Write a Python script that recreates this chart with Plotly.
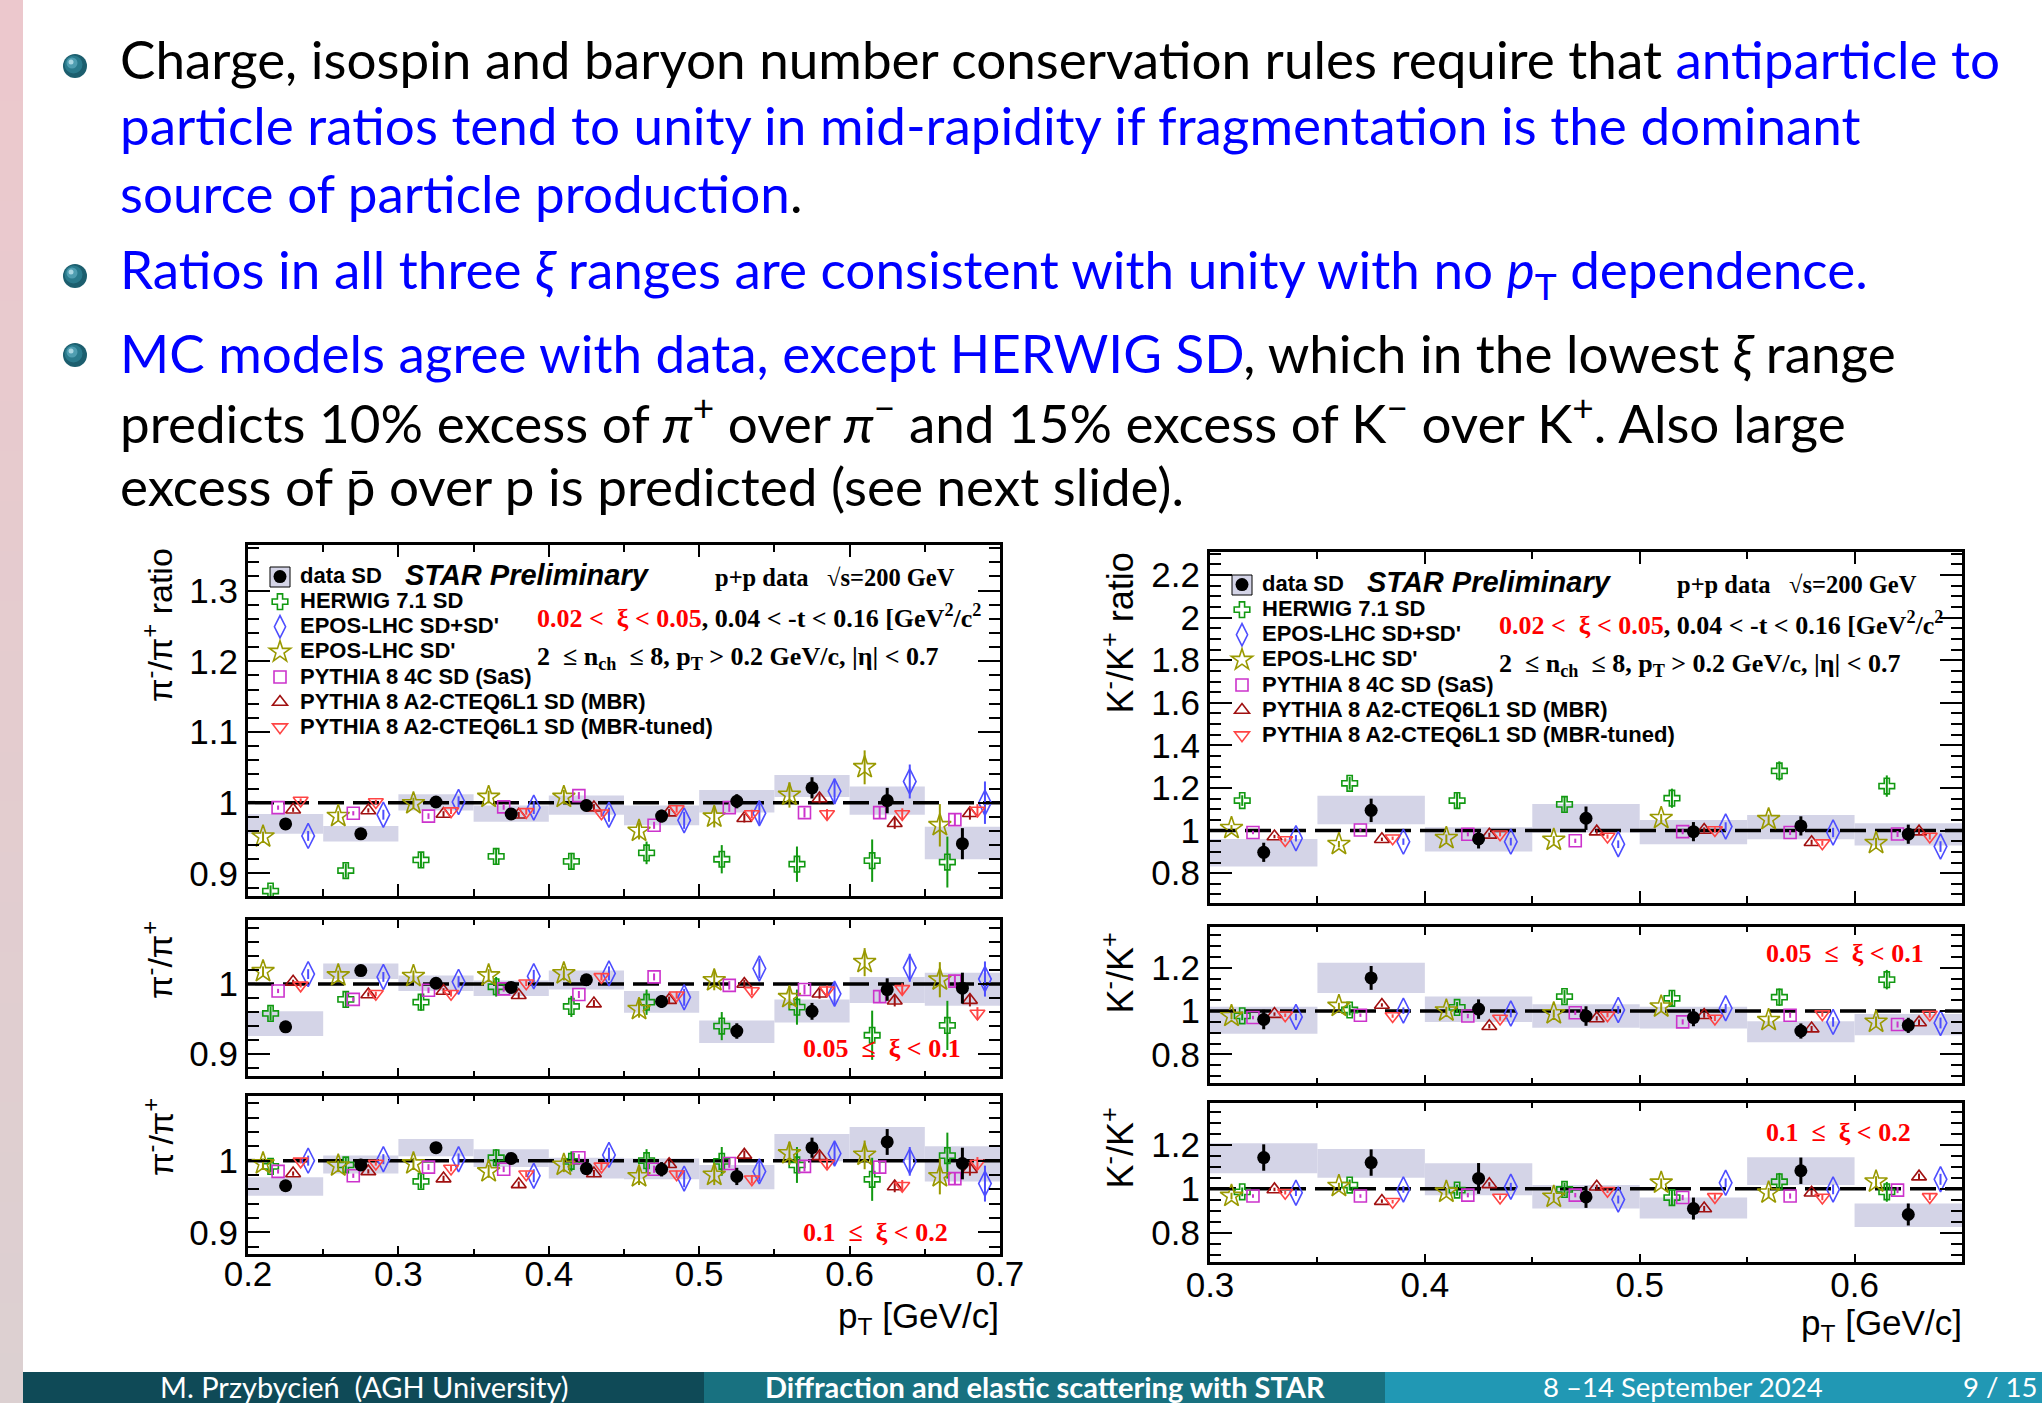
import plotly.graph_objects as go

W, H = 2042, 1403

# ------------------------------------------------------------------ data
PI_BIN_LO = [0.20, 0.25, 0.30, 0.35, 0.40, 0.45, 0.50, 0.55, 0.60, 0.65]
K_BIN_LO = [0.30, 0.35, 0.40, 0.45, 0.50, 0.55, 0.60]
BIN_WIDTH = 0.05
UNITY = 1.0

# pi-/pi+ , 0.02 < xi < 0.05
PI1_DATA = [0.970, 0.956, 1.001, 0.984, 0.996, 0.981, 1.002, 1.021, 1.003, 0.942]
PI1_DATA_ERR = [0.008, 0.006, 0.007, 0.007, 0.008, 0.009, 0.010, 0.015, 0.018, 0.022]
PI1_SYS_LO = [0.956, 0.945, 0.989, 0.973, 0.983, 0.968, 0.986, 1.008, 0.983, 0.920]
PI1_SYS_HI = [0.984, 0.967, 1.012, 0.996, 1.010, 0.996, 1.018, 1.039, 1.023, 0.966]
PI1_HERWIG = [0.875, 0.904, 0.919, 0.924, 0.917, 0.929, 0.920, 0.913, 0.918, 0.916]
PI1_HERWIG_ERR = [0.008, 0.010, 0.010, 0.012, 0.012, 0.016, 0.020, 0.025, 0.030, 0.036]
PI1_EPOS_SDSD = [0.953, 0.983, 1.001, 0.993, 0.983, 0.975, 0.985, 1.016, 1.030, 1.000]
PI1_EPOS_SDP = [0.952, 0.981, 0.999, 1.008, 1.008, 0.960, 0.980, 1.011, 1.050, 0.968]
PI1_EPOS_ERR = [0.007, 0.007, 0.008, 0.009, 0.010, 0.012, 0.015, 0.018, 0.024, 0.030]
PI1_PY4C = [0.993, 0.985, 0.981, 0.994, 1.010, 0.968, 0.993, 0.986, 0.986, 0.976]
PI1_MBR = [0.990, 0.989, 0.984, 0.983, 0.993, 0.986, 0.978, 1.006, 0.971, 0.985]
PI1_MBRT = [1.003, 1.001, 0.988, 0.987, 0.985, 0.991, 0.984, 0.984, 0.984, 0.989]
PI1_PYTHIA_ERR = [0.003, 0.003, 0.004, 0.004, 0.005, 0.005, 0.006, 0.007, 0.008, 0.009]

# pi-/pi+ , 0.05 <= xi < 0.1
PI2_DATA = [0.939, 1.019, 1.001, 0.995, 1.006, 0.975, 0.933, 0.961, 0.992, 0.994]
PI2_DATA_ERR = [0.007, 0.006, 0.007, 0.007, 0.008, 0.009, 0.011, 0.012, 0.016, 0.022]
PI2_SYS_LO = [0.926, 1.007, 0.990, 0.983, 0.992, 0.959, 0.916, 0.945, 0.973, 0.969]
PI2_SYS_HI = [0.961, 1.029, 1.012, 1.005, 1.019, 0.990, 0.948, 0.978, 1.010, 1.016]
PI2_HERWIG = [0.958, 0.978, 0.974, 0.996, 0.968, 0.974, 0.940, 0.967, 0.927, 0.941]
PI2_HERWIG_ERR = [0.010, 0.012, 0.012, 0.014, 0.015, 0.018, 0.020, 0.025, 0.035, 0.035]
PI2_EPOS_SDSD = [1.014, 1.010, 1.003, 1.011, 1.015, 0.981, 1.022, 0.986, 1.023, 1.007]
PI2_EPOS_SDP = [1.018, 1.012, 1.011, 1.012, 1.015, 0.964, 1.005, 0.981, 1.031, 1.006]
PI2_EPOS_ERR = [0.007, 0.007, 0.008, 0.009, 0.010, 0.012, 0.014, 0.016, 0.020, 0.025]
PI2_PY4C = [0.990, 0.978, 0.991, 0.993, 0.985, 1.010, 0.998, 0.992, 0.982, 1.004]
PI2_MBR = [1.003, 0.985, 0.990, 0.984, 0.972, 0.977, 1.000, 0.986, 0.976, 0.977]
PI2_MBRT = [0.998, 0.986, 0.986, 1.001, 1.010, 0.984, 0.990, 0.991, 0.993, 0.958]
PI2_PYTHIA_ERR = [0.003, 0.003, 0.004, 0.004, 0.005, 0.005, 0.006, 0.007, 0.008, 0.009]

# pi-/pi+ , 0.1 <= xi < 0.2
PI3_DATA = [0.965, 0.994, 1.018, 1.003, 0.989, 0.988, 0.978, 1.018, 1.026, 0.996]
PI3_DATA_ERR = [0.007, 0.007, 0.008, 0.008, 0.009, 0.010, 0.012, 0.014, 0.018, 0.022]
PI3_SYS_LO = [0.951, 0.982, 1.006, 0.991, 0.975, 0.974, 0.960, 0.999, 1.001, 0.971]
PI3_SYS_HI = [0.977, 1.007, 1.030, 1.016, 1.004, 1.003, 0.994, 1.037, 1.047, 1.020]
PI3_HERWIG = [0.992, 0.994, 0.971, 1.004, 0.999, 1.000, 0.999, 0.994, 0.974, 1.007]
PI3_HERWIG_ERR = [0.008, 0.010, 0.010, 0.012, 0.014, 0.016, 0.020, 0.025, 0.030, 0.032]
PI3_EPOS_SDSD = [1.000, 1.002, 1.002, 0.979, 1.008, 0.975, 0.985, 1.010, 0.999, 0.968]
PI3_EPOS_SDP = [0.996, 0.993, 0.996, 0.985, 0.994, 0.978, 0.980, 1.010, 1.008, 0.978]
PI3_EPOS_ERR = [0.007, 0.007, 0.008, 0.009, 0.010, 0.012, 0.014, 0.016, 0.020, 0.025]
PI3_PY4C = [0.985, 0.979, 0.991, 0.988, 1.004, 0.988, 0.996, 0.992, 0.991, 0.975]
PI3_MBR = [0.982, 0.985, 0.975, 0.967, 0.982, 0.995, 1.008, 1.006, 0.964, 0.988]
PI3_MBRT = [0.999, 0.996, 0.989, 0.981, 0.992, 0.981, 0.974, 0.996, 0.965, 0.996]
PI3_PYTHIA_ERR = [0.003, 0.003, 0.004, 0.004, 0.005, 0.005, 0.006, 0.007, 0.008, 0.009]

# K-/K+ , 0.02 < xi < 0.05
K1_DATA = [0.898, 1.095, 0.961, 1.058, 0.995, 1.022, 0.983]
K1_DATA_ERR = [0.045, 0.055, 0.045, 0.055, 0.045, 0.045, 0.045]
K1_SYS_LO = [0.831, 1.030, 0.902, 0.991, 0.936, 0.959, 0.930]
K1_SYS_HI = [0.961, 1.163, 1.016, 1.125, 1.050, 1.073, 1.034]
K1_HERWIG = [1.141, 1.222, 1.141, 1.123, 1.152, 1.280, 1.209]
K1_HERWIG_ERR = [0.025, 0.030, 0.035, 0.035, 0.045, 0.045, 0.050]
K1_EPOS_SDSD = [0.964, 0.948, 0.948, 0.936, 1.019, 0.991, 0.925]
K1_EPOS_SDP = [1.011, 0.936, 0.964, 0.956, 1.058, 1.053, 0.941]
K1_EPOS_ERR = [0.015, 0.015, 0.018, 0.018, 0.020, 0.022, 0.025]
K1_PY4C = [0.991, 1.003, 0.983, 0.952, 0.995, 0.991, 0.984]
K1_MBR = [0.972, 0.959, 0.980, 0.995, 1.003, 0.945, 0.995]
K1_MBRT = [0.956, 0.964, 0.983, 0.972, 1.003, 0.941, 0.972]
K1_PYTHIA_ERR = [0.008, 0.008, 0.010, 0.010, 0.012, 0.012, 0.014]

# K-/K+ , 0.05 <= xi < 0.1
K2_DATA = [0.961, 1.153, 1.009, 0.977, 0.970, 0.908, 0.934]
K2_DATA_ERR = [0.045, 0.055, 0.045, 0.045, 0.040, 0.035, 0.035]
K2_SYS_LO = [0.895, 1.083, 0.950, 0.923, 0.919, 0.856, 0.888]
K2_SYS_HI = [1.020, 1.223, 1.067, 1.031, 1.020, 0.953, 0.986]
K2_HERWIG = [0.978, 1.005, 1.017, 1.067, 1.059, 1.064, 1.145]
K2_HERWIG_ERR = [0.020, 0.025, 0.025, 0.030, 0.035, 0.040, 0.045]
K2_EPOS_SDSD = [0.973, 1.002, 0.989, 1.005, 1.013, 0.950, 0.945]
K2_EPOS_SDP = [0.977, 1.023, 1.002, 0.989, 1.020, 0.958, 0.950]
K2_EPOS_ERR = [0.015, 0.015, 0.018, 0.018, 0.020, 0.022, 0.025]
K2_PY4C = [0.970, 0.981, 0.977, 0.992, 0.950, 0.981, 0.938]
K2_MBR = [0.986, 1.028, 0.930, 0.966, 0.981, 0.919, 0.947]
K2_MBRT = [0.981, 0.977, 0.966, 0.981, 0.966, 0.986, 0.984]
K2_PYTHIA_ERR = [0.008, 0.008, 0.010, 0.010, 0.012, 0.012, 0.014]

# K-/K+ , 0.1 <= xi < 0.2
K3_DATA = [1.142, 1.119, 1.047, 0.963, 0.910, 1.082, 0.883]
K3_DATA_ERR = [0.060, 0.060, 0.070, 0.050, 0.050, 0.060, 0.050]
K3_SYS_LO = [1.070, 1.050, 0.971, 0.910, 0.865, 1.017, 0.826]
K3_SYS_HI = [1.207, 1.181, 1.116, 1.017, 0.960, 1.143, 0.933]
K3_HERWIG = [0.986, 1.017, 0.994, 0.997, 0.960, 1.032, 0.986]
K3_HERWIG_ERR = [0.020, 0.025, 0.025, 0.030, 0.035, 0.040, 0.045]
K3_EPOS_SDSD = [0.982, 0.997, 1.009, 0.951, 1.027, 0.997, 1.043]
K3_EPOS_SDP = [0.967, 1.012, 0.986, 0.963, 1.027, 0.982, 1.032]
K3_EPOS_ERR = [0.015, 0.015, 0.018, 0.018, 0.020, 0.022, 0.025]
K3_PY4C = [0.967, 0.967, 0.971, 0.971, 0.960, 0.967, 0.994]
K3_MBR = [0.997, 0.944, 1.020, 1.009, 0.910, 0.982, 1.055]
K3_MBRT = [0.982, 0.941, 0.960, 0.991, 0.963, 0.960, 0.963]
K3_PYTHIA_ERR = [0.008, 0.008, 0.010, 0.010, 0.012, 0.012, 0.014]

# texts
SLIDE_LINES = [
    "Charge, isospin and baryon number conservation rules require that "
    "<span style='color:#0000ff'>antiparticle to</span>",
    "<span style='color:#0000ff'>particle ratios tend to unity in mid-rapidity if fragmentation is the dominant</span>",
    "<span style='color:#0000ff'>source of particle production</span>.",
    "<span style='color:#0000ff'>Ratios in all three <i>ξ</i> ranges are consistent with unity with no "
    "<i>p</i><sub>T</sub> dependence.</span>",
    "<span style='color:#0000ff'>MC models agree with data, except HERWIG SD</span>, which in the lowest <i>ξ</i> range",
    "predicts 10% excess of <i>π</i><sup>+</sup> over <i>π</i><sup>−</sup> and 15% excess of "
    "K<sup>−</sup> over K<sup>+</sup>. Also large",
    "excess of p̄ over p is predicted (see next slide).",
]
FOOTER_TEXTS = ["M. Przybycień&nbsp; (AGH University)", "<b>Diffraction and elastic scattering with STAR</b>",
                "8 –14 September 2024", "9 / 15"]
LEGEND_NAMES = ["data SD", "HERWIG 7.1 SD", "EPOS-LHC SD+SD'", "EPOS-LHC SD'",
                "PYTHIA 8 4C SD (SaS)", "PYTHIA 8 A2-CTEQ6L1 SD (MBR)", "PYTHIA 8 A2-CTEQ6L1 SD (MBR-tuned)"]

# ------------------------------------------------------------------ styles
BOX_COLOR = "#d4d4e7"
SANS = "Liberation Sans"
SERIF = "Liberation Serif"
SLIDE_FONT = "Lato"

# (key, legend index, symbol, color, size, x offset from bin centre)
MODEL_STYLES = [
    ("herwig", 1, "cross-open", "#119911", 13, -0.010),
    ("sdsd", 2, "diamond-tall-open", "#4d4dff", 18, 0.015),
    ("sdp", 3, "star-open", "#999900", 17, -0.015),
    ("py4c", 4, "square-open", "#cc33cc", 12, -0.005),
    ("mbr", 5, "triangle-up-open", "#a01010", 13, 0.005),
    ("mbrt", 6, "triangle-down-open", "#ff4444", 13, 0.010),
]

PANELS = [
    dict(bins=PI_BIN_LO, data=PI1_DATA, err=PI1_DATA_ERR, lo=PI1_SYS_LO, hi=PI1_SYS_HI,
         m=dict(herwig=(PI1_HERWIG, PI1_HERWIG_ERR), sdsd=(PI1_EPOS_SDSD, PI1_EPOS_ERR),
                sdp=(PI1_EPOS_SDP, PI1_EPOS_ERR), py4c=(PI1_PY4C, PI1_PYTHIA_ERR),
                mbr=(PI1_MBR, PI1_PYTHIA_ERR), mbrt=(PI1_MBRT, PI1_PYTHIA_ERR)),
         xpx=(248, 1000), ypx=(545, 896), xr=(0.2, 0.7), yr=(0.868, 1.3645), ydt=0.1, ymin=0.02,
         top=True, bottom=False, legend="legend", standoff=0),
    dict(bins=PI_BIN_LO, data=PI2_DATA, err=PI2_DATA_ERR, lo=PI2_SYS_LO, hi=PI2_SYS_HI,
         m=dict(herwig=(PI2_HERWIG, PI2_HERWIG_ERR), sdsd=(PI2_EPOS_SDSD, PI2_EPOS_ERR),
                sdp=(PI2_EPOS_SDP, PI2_EPOS_ERR), py4c=(PI2_PY4C, PI2_PYTHIA_ERR),
                mbr=(PI2_MBR, PI2_PYTHIA_ERR), mbrt=(PI2_MBRT, PI2_PYTHIA_ERR)),
         xpx=(248, 1000), ypx=(920, 1076), xr=(0.2, 0.7), yr=(0.869, 1.091), ydt=0.1, ymin=0.02,
         top=False, bottom=False, legend=None, standoff=0),
    dict(bins=PI_BIN_LO, data=PI3_DATA, err=PI3_DATA_ERR, lo=PI3_SYS_LO, hi=PI3_SYS_HI,
         m=dict(herwig=(PI3_HERWIG, PI3_HERWIG_ERR), sdsd=(PI3_EPOS_SDSD, PI3_EPOS_ERR),
                sdp=(PI3_EPOS_SDP, PI3_EPOS_ERR), py4c=(PI3_PY4C, PI3_PYTHIA_ERR),
                mbr=(PI3_MBR, PI3_PYTHIA_ERR), mbrt=(PI3_MBRT, PI3_PYTHIA_ERR)),
         xpx=(248, 1000), ypx=(1096, 1254), xr=(0.2, 0.7), yr=(0.870, 1.090), ydt=0.1, ymin=0.02,
         top=False, bottom=True, legend=None, standoff=-13),
    dict(bins=K_BIN_LO, data=K1_DATA, err=K1_DATA_ERR, lo=K1_SYS_LO, hi=K1_SYS_HI,
         m=dict(herwig=(K1_HERWIG, K1_HERWIG_ERR), sdsd=(K1_EPOS_SDSD, K1_EPOS_ERR),
                sdp=(K1_EPOS_SDP, K1_EPOS_ERR), py4c=(K1_PY4C, K1_PYTHIA_ERR),
                mbr=(K1_MBR, K1_PYTHIA_ERR), mbrt=(K1_MBRT, K1_PYTHIA_ERR)),
         xpx=(1210, 1962), ypx=(552, 903), xr=(0.3, 0.65), yr=(0.66, 2.308), ydt=0.2, ymin=0.05,
         top=True, bottom=False, legend="legend2", standoff=0),
    dict(bins=K_BIN_LO, data=K2_DATA, err=K2_DATA_ERR, lo=K2_SYS_LO, hi=K2_SYS_HI,
         m=dict(herwig=(K2_HERWIG, K2_HERWIG_ERR), sdsd=(K2_EPOS_SDSD, K2_EPOS_ERR),
                sdp=(K2_EPOS_SDP, K2_EPOS_ERR), py4c=(K2_PY4C, K2_PYTHIA_ERR),
                mbr=(K2_MBR, K2_PYTHIA_ERR), mbrt=(K2_MBRT, K2_PYTHIA_ERR)),
         xpx=(1210, 1962), ypx=(927, 1083), xr=(0.3, 0.65), yr=(0.668, 1.388), ydt=0.2, ymin=0.05,
         top=False, bottom=False, legend=None, standoff=0),
    dict(bins=K_BIN_LO, data=K3_DATA, err=K3_DATA_ERR, lo=K3_SYS_LO, hi=K3_SYS_HI,
         m=dict(herwig=(K3_HERWIG, K3_HERWIG_ERR), sdsd=(K3_EPOS_SDSD, K3_EPOS_ERR),
                sdp=(K3_EPOS_SDP, K3_EPOS_ERR), py4c=(K3_PY4C, K3_PYTHIA_ERR),
                mbr=(K3_MBR, K3_PYTHIA_ERR), mbrt=(K3_MBRT, K3_PYTHIA_ERR)),
         xpx=(1210, 1962), ypx=(1103, 1262), xr=(0.3, 0.65), yr=(0.667, 1.39), ydt=0.2, ymin=0.05,
         top=False, bottom=True, legend=None, standoff=-10),
]

fig = go.Figure()
layout = dict(width=W, height=H, autosize=False,
              margin=dict(l=0, r=0, t=0, b=0, pad=0, autoexpand=False),
              paper_bgcolor="white", plot_bgcolor="rgba(0,0,0,0)", barmode="overlay", showlegend=True)

LEG_SPAN = "<span style='font-size:22px'>%s</span>"

for i, p in enumerate(PANELS):
    n = "" if i == 0 else str(i + 1)
    xa, ya = "x" + n, "y" + n
    centres = [b + BIN_WIDTH / 2 for b in p["bins"]]
    # systematic boxes
    fig.add_trace(go.Bar(x=centres, y=[h - l for h, l in zip(p["hi"], p["lo"])], base=p["lo"],
                         width=BIN_WIDTH, marker=dict(color=BOX_COLOR, line=dict(width=0)),
                         xaxis=xa, yaxis=ya, showlegend=False, hoverinfo="skip"))
    # unity line
    fig.add_trace(go.Scatter(x=list(p["xr"]), y=[UNITY, UNITY], mode="lines",
                             line=dict(color="black", width=3.5, dash="26px,9px"),
                             xaxis=xa, yaxis=ya, showlegend=False, hoverinfo="skip"))
    show = p["legend"] is not None
    for key, rank, sym, col, size, off in MODEL_STYLES:
        vals, errs = p["m"][key]
        kw = dict(legend=p["legend"]) if show else {}
        fig.add_trace(go.Scatter(
            x=[c + off for c in centres], y=vals, mode="markers",
            marker=dict(symbol=sym, color=col, size=size, line=dict(color=col, width=1.6)),
            error_y=dict(type="data", array=errs, color=col, thickness=2, width=0),
            name=LEG_SPAN % LEGEND_NAMES[rank], legendrank=rank + 1,
            xaxis=xa, yaxis=ya, showlegend=show, **kw))
    kw = dict(legend=p["legend"]) if show else {}
    fig.add_trace(go.Scatter(
        x=centres, y=p["data"], mode="markers",
        marker=dict(symbol="circle", color="black", size=13),
        error_y=dict(type="data", array=p["err"], color="black", thickness=3, width=0),
        name=LEG_SPAN % LEGEND_NAMES[0], legendrank=1,
        xaxis=xa, yaxis=ya, showlegend=show, **kw))

    xlen = 12 if p["top"] else 8
    layout["xaxis" + n] = dict(
        domain=[p["xpx"][0] / W, p["xpx"][1] / W], range=list(p["xr"]), anchor=ya,
        showline=True, linewidth=3, linecolor="black", mirror="ticks",
        ticks="inside", ticklen=xlen, tickwidth=2, tickcolor="black",
        tick0=p["xr"][0], dtick=0.1, ticklabelstandoff=p["standoff"],
        minor=dict(ticks="inside", ticklen=xlen // 2 + 1, tickwidth=2, tickcolor="black", dtick=0.05,
                   tick0=p["xr"][0], showgrid=False),
        showgrid=False, zeroline=False, showticklabels=p["bottom"], automargin=False,
        tickfont=dict(family=SANS, size=35, color="black"), fixedrange=True)
    layout["yaxis" + n] = dict(
        domain=[1 - p["ypx"][1] / H, 1 - p["ypx"][0] / H], range=list(p["yr"]), anchor=xa,
        showline=True, linewidth=3, linecolor="black", mirror="ticks",
        ticks="inside", ticklen=22, tickwidth=2, tickcolor="black",
        tick0=0, dtick=p["ydt"], automargin=False,
        minor=dict(ticks="inside", ticklen=11, tickwidth=2, tickcolor="black", dtick=p["ymin"],
                   tick0=0, showgrid=False),
        showgrid=False, zeroline=False,
        tickfont=dict(family=SANS, size=35, color="black"), fixedrange=True)

LEG_FONT = dict(family=SANS, size=17, color="black", weight="bold")
LEG_L = (260, 559)
LEG_R = (1222, 567)
layout["legend"] = dict(x=LEG_L[0] / W, y=1 - LEG_L[1] / H, xanchor="left", yanchor="top",
                        bgcolor="rgba(0,0,0,0)", borderwidth=0, font=LEG_FONT, traceorder="normal")
layout["legend2"] = dict(x=LEG_R[0] / W, y=1 - LEG_R[1] / H, xanchor="left", yanchor="top",
                         bgcolor="rgba(0,0,0,0)", borderwidth=0, font=LEG_FONT, traceorder="normal")

# ------------------------------------------------------------------ decoration
shapes = []
# left stripe gradient (full height)
NB = 28
for k in range(NB):
    t = k / (NB - 1)
    r = round(236 + (220 - 236) * t)
    g = round(200 + (208 - 200) * t)
    b = round(205 + (209 - 205) * t)
    y0 = H * k / NB
    y1 = H * (k + 1) / NB + 1
    shapes.append(dict(type="rect", xref="paper", yref="paper", x0=0, x1=23 / W,
                       y0=max(0, 1 - y1 / H), y1=1 - y0 / H, fillcolor=f"rgb({r},{g},{b})",
                       line=dict(width=0), layer="below"))
# footer bars
for x0, x1, col in [(23, 704, "#0f4a57"), (704, 1385, "#187180"), (1385, W, "#2198b4")]:
    shapes.append(dict(type="rect", xref="paper", yref="paper", x0=x0 / W, x1=x1 / W,
                       y0=0, y1=1 - 1372 / H, fillcolor=col, line=dict(width=0), layer="below"))
# bullets
for cy in [66, 276, 355]:
    cx = 75
    for rad, col, dx, dy in [(12, "#1c5e6e", 0, 0), (9, "#2a7a8c", -1.5, -1.5),
                             (5.5, "#4f9db0", -3, -3), (2.5, "#a9d6e2", -4, -4)]:
        shapes.append(dict(type="circle", xref="paper", yref="paper",
                           x0=(cx + dx - rad) / W, x1=(cx + dx + rad) / W,
                           y0=1 - (cy + dy + rad) / H, y1=1 - (cy + dy - rad) / H,
                           fillcolor=col, line=dict(width=0)))
# legend box icons for "data SD"
for bx, by in [(LEG_L[0] + 20, LEG_L[1] + 18), (LEG_R[0] + 20, LEG_R[1] + 18)]:
    shapes.append(dict(type="rect", xref="paper", yref="paper",
                       x0=(bx - 10) / W, x1=(bx + 10) / W, y0=1 - (by + 10) / H, y1=1 - (by - 10) / H,
                       fillcolor=BOX_COLOR, line=dict(color="black", width=1)))
layout["shapes"] = shapes


def ann(text, x, y, size, family, color="black", xanchor="left", yanchor="middle", angle=0):
    return dict(text=text, x=x / W, y=1 - y / H, xref="paper", yref="paper", xanchor=xanchor,
                yanchor=yanchor, showarrow=False, textangle=angle, align="left", borderpad=0,
                font=dict(family=family, size=size, color=color))


anns = []
for txt, base in zip(SLIDE_LINES, [79, 146, 213, 294, 373, 440, 507]):
    anns.append(ann(txt, 119, base - 21, 53, SLIDE_FONT))
anns.append(ann(FOOTER_TEXTS[0], 364, 1386, 29, SLIDE_FONT, "white", "center"))
anns.append(ann(FOOTER_TEXTS[1], 1045, 1386, 29, SLIDE_FONT, "white", "center"))
anns.append(ann(FOOTER_TEXTS[2], 1683, 1386, 27.5, SLIDE_FONT, "white", "center"))
anns.append(ann(FOOTER_TEXTS[3], 2038, 1386, 27.5, SLIDE_FONT, "white", "right"))

# axis titles
PI_T = "π<sup>-</sup>/π<sup>+</sup>"
K_T = "K<sup>-</sup>/K<sup>+</sup>"
anns.append(ann(PI_T + " ratio", 158, 547, 34, SANS, xanchor="center", yanchor="top", angle=-90))
anns.append(ann(PI_T, 158, 920, 34, SANS, xanchor="center", yanchor="top", angle=-90))
anns.append(ann(PI_T, 158, 1097, 34, SANS, xanchor="center", yanchor="top", angle=-90))
anns.append(ann(K_T + " ratio", 1117, 552, 36, SANS, xanchor="center", yanchor="top", angle=-90))
anns.append(ann(K_T, 1117, 932, 36, SANS, xanchor="center", yanchor="top", angle=-90))
anns.append(ann(K_T, 1117, 1107, 36, SANS, xanchor="center", yanchor="top", angle=-90))
PT_T = "p<sub>T</sub> [GeV/c]"
anns.append(ann(PT_T, 1000, 1318, 35, SANS, xanchor="right"))
anns.append(ann(PT_T, 1963, 1325, 35, SANS, xanchor="right"))

# panel texts
STAR = "<b><i>STAR Preliminary</i></b>"
PP = "<b>p+p data&nbsp;&nbsp; √s=200 GeV</b>"
XI1 = ("<b><span style='color:#ff0000'>0.02 &lt;&nbsp; ξ &lt; 0.05</span>, 0.04 &lt; -t &lt; 0.16 "
       "[GeV<sup>2</sup>/c<sup>2</sup></b>")
NCH = "<b>2&nbsp; ≤ n<sub>ch</sub>&nbsp; ≤ 8, p<sub>T</sub> &gt; 0.2 GeV/c, |η| &lt; 0.7</b>"
XI2 = "<b>0.05&nbsp; ≤&nbsp; ξ &lt; 0.1</b>"
XI3 = "<b>0.1&nbsp; ≤&nbsp; ξ &lt; 0.2</b>"
for dx, dy in [(0, 0), (962, 7)]:
    anns.append(ann(STAR, 404 + dx, 575 + dy, 29, SANS))
    anns.append(ann(PP, 714 + dx, 577 + dy, 24.5, SERIF))
    anns.append(ann(XI1, 536 + dx, 616 + dy, 26, SERIF))
    anns.append(ann(NCH, 536 + dx, 658 + dy, 26, SERIF))
anns.append(ann(XI2, 802, 1048, 26, SERIF, "#ff0000"))
anns.append(ann(XI3, 802, 1232, 26, SERIF, "#ff0000"))
anns.append(ann(XI2, 1765, 953, 26, SERIF, "#ff0000"))
anns.append(ann(XI3, 1765, 1132, 26, SERIF, "#ff0000"))
layout["annotations"] = anns

fig.update_layout(**layout)
fig.write_html("out.html")
